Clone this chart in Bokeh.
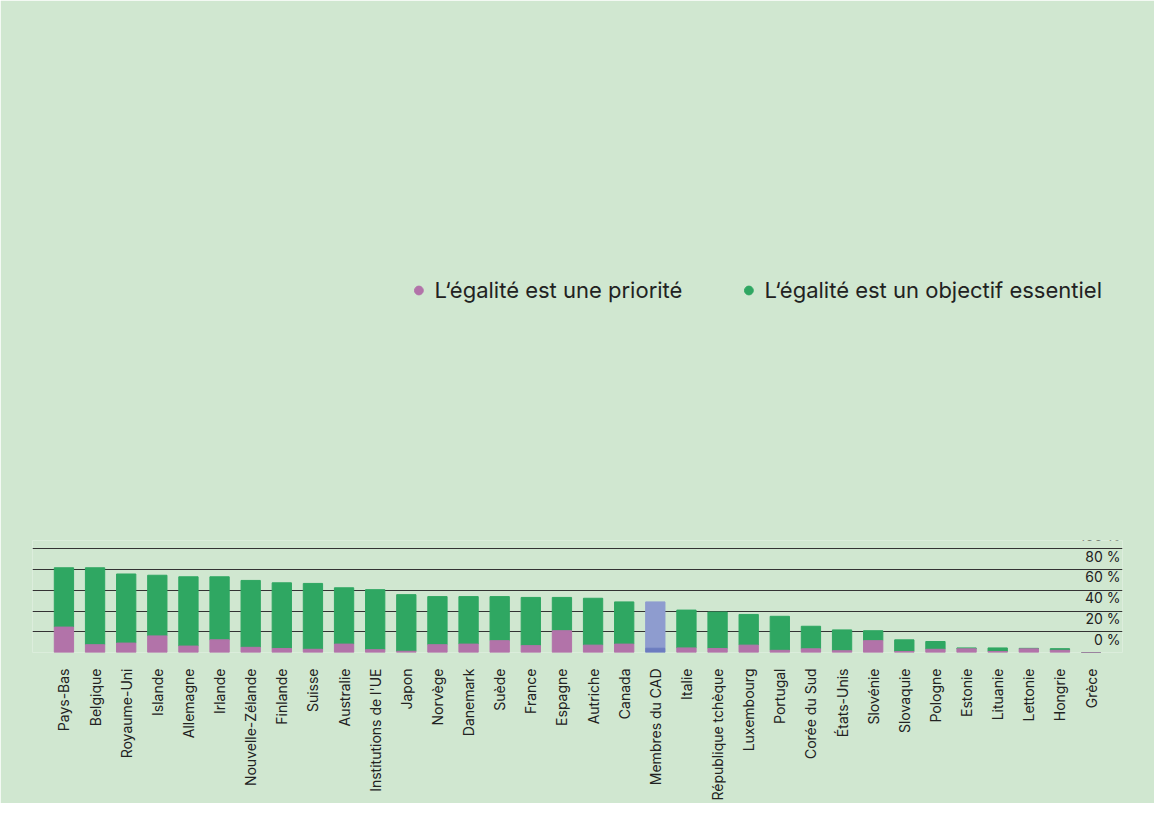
import math
from bokeh.plotting import figure
from bokeh.models import ColumnDataSource, Label, Legend, LegendItem, FixedTicker
from bokeh.embed import file_html
from bokeh.resources import INLINE

countries = ["Pays-Bas","Belgique","Royaume-Uni","Islande","Allemagne","Irlande","Nouvelle-Zélande",
             "Finlande","Suisse","Australie","Institutions de l'UE","Japon","Norvège","Danemark","Suède",
             "France","Espagne","Autriche","Canada","Membres du CAD","Italie","République tchèque",
             "Luxembourg","Portugal","Corée du Sud","États-Unis","Slovénie","Slovaquie","Pologne",
             "Estonie","Lituanie","Lettonie","Hongrie","Grèce"]
total = [81.7,81.7,75.7,74.5,73.0,73.0,69.5,67.2,66.6,62.4,60.6,55.8,53.9,53.9,53.9,53.1,53.1,52.3,48.8,
         48.8,40.9,39.0,36.7,34.9,25.3,21.8,21.0,12.2,10.6,4.4,4.4,4.0,3.7,0.0]
priority = [24.5,7.5,9.1,16.0,6.2,12.2,5.0,3.9,3.1,8.1,2.7,1.2,7.5,8.1,11.4,6.6,21.0,7.1,8.1,
            4.1,4.4,3.9,7.1,2.1,3.5,1.7,11.4,1.0,3.1,3.5,1.0,3.5,2.1,0.0]
y_ticks = [0,20,40,60,80,100]
tick_labels = ["0 %","20 %","40 %","60 %","80 %","100 %"]

BG = "#d0e7d0"
PINK = "#b273a9"
GREEN = "#2fa762"
DAC_TOP = "#8e9ccf"
DAC_BOT = "#6c7cc0"

pink_c = [DAC_BOT if c == "Membres du CAD" else PINK for c in countries]
green_c = [DAC_TOP if c == "Membres du CAD" else GREEN for c in countries]
src = ColumnDataSource(dict(x=countries, total=total, pr=priority, pc=pink_c, gc=green_c))

p = figure(width=1154, height=803, x_range=countries, y_range=(0, 108),
           output_backend="svg", toolbar_location=None,
           min_border_left=32, min_border_right=32, min_border_top=10, min_border_bottom=10)
p.background_fill_color = BG
p.border_fill_color = BG
p.outline_line_color = None

p.vbar(x="x", top="total", bottom="pr", width=0.62, color="gc", source=src)
p.vbar(x="x", top="pr", bottom=0, width=0.62, color="pc", source=src)

p.yaxis.visible = False
p.ygrid.ticker = FixedTicker(ticks=y_ticks)
p.ygrid.grid_line_color = "#333333"
p.ygrid.grid_line_width = 1.2
p.xgrid.grid_line_color = None

p.xaxis.major_label_orientation = math.pi / 2
p.xaxis.axis_line_color = None
p.xaxis.major_tick_line_color = None
p.xaxis.minor_tick_line_color = None
p.xaxis.major_label_text_font = "Inter"
p.xaxis.major_label_text_font_size = "14px"
p.xaxis.major_label_text_color = "#222222"
p.xaxis.major_label_standoff = 10
p.x_range.range_padding = 0.03

for t, lab in zip(y_ticks, tick_labels):
    p.add_layout(Label(x=1088, x_units="screen", y=t, text=lab, text_align="right",
                       y_offset=5, text_font="Inter", text_font_size="14px", text_color="#222222"))

r1 = p.scatter(x=[countries[0]], y=[-50], size=20, color=PINK)
r2 = p.scatter(x=[countries[0]], y=[-50], size=20, color=GREEN)
leg = Legend(items=[LegendItem(label="L‘égalité est une priorité", renderers=[r1]),
                    LegendItem(label="L‘égalité est un objectif essentiel", renderers=[r2])],
             orientation="horizontal", background_fill_alpha=0, border_line_color=None,
             label_text_font="Inter", label_text_font_size="22px", label_text_color="#222222",
             spacing=55, glyph_width=22, glyph_height=22, margin=20, padding=10)
p.add_layout(leg, "above")

open("out.html", "w").write(file_html(p, INLINE))
